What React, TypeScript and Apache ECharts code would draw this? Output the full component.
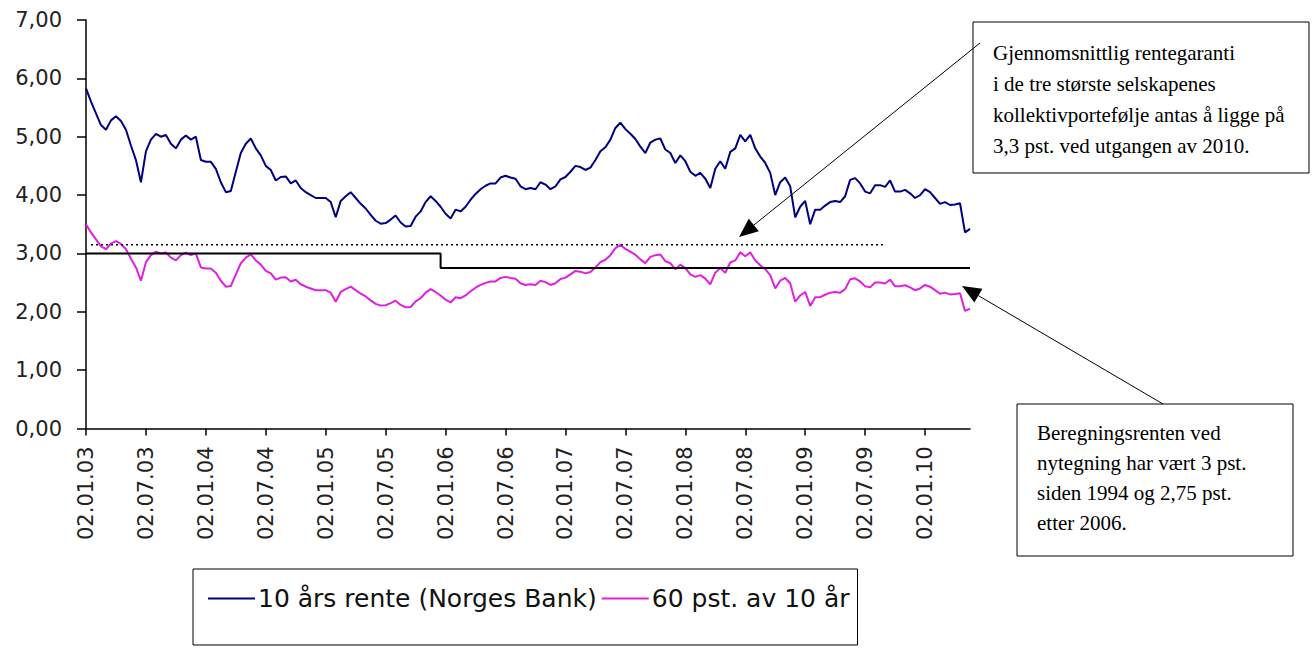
import React, { useEffect, useRef } from "react";
import * as echarts from "echarts";

// 10-year government bond yield (Norges Bank), read semi-monthly from the picture
const rate10: number[] = [
  5.83, 5.6, 5.4, 5.2, 5.12, 5.28, 5.35, 5.27, 5.12, 4.85,
  4.6, 4.22, 4.75, 4.95, 5.05, 5.0, 5.03, 4.88, 4.8, 4.95,
  5.02, 4.95, 5.0, 4.6, 4.57, 4.57, 4.45, 4.22, 4.05, 4.07,
  4.4, 4.72, 4.88, 4.97, 4.8, 4.68, 4.5, 4.43, 4.25, 4.31,
  4.32, 4.2, 4.25, 4.12, 4.05, 4.0, 3.95, 3.95, 3.95, 3.88,
  3.62, 3.9, 3.98, 4.05, 3.95, 3.85, 3.77, 3.66, 3.56, 3.51,
  3.52, 3.58, 3.65, 3.53, 3.46, 3.47, 3.63, 3.72, 3.88, 3.98,
  3.9, 3.8, 3.68, 3.6, 3.75, 3.72, 3.8, 3.92, 4.02, 4.1,
  4.16, 4.2, 4.2, 4.3, 4.33, 4.3, 4.28, 4.15, 4.1, 4.12,
  4.1, 4.22, 4.18, 4.1, 4.15, 4.27, 4.31, 4.4, 4.5, 4.48,
  4.43, 4.47, 4.6, 4.75, 4.82, 4.95, 5.15, 5.24, 5.13, 5.05,
  4.96, 4.83, 4.72, 4.9, 4.95, 4.97, 4.78, 4.72, 4.55, 4.68,
  4.58, 4.4, 4.33, 4.38, 4.28, 4.12, 4.45, 4.58, 4.45, 4.74,
  4.8, 5.03, 4.92, 5.03, 4.8, 4.66, 4.55, 4.38, 4.0, 4.22,
  4.3, 4.15, 3.62, 3.8, 3.9, 3.5, 3.75, 3.75, 3.82, 3.88,
  3.9, 3.88, 3.98, 4.26, 4.29, 4.2, 4.06, 4.03, 4.17, 4.17,
  4.14, 4.25, 4.06, 4.06, 4.09, 4.03, 3.95, 4.0, 4.1, 4.05,
  3.95, 3.85, 3.88, 3.83, 3.84, 3.86, 3.36, 3.42,
];

// "60 pst. av 10 år" is by definition 60 % of the 10-year rate
const share = 0.6;
const rate60: number[] = rate10.map((v) => Math.round(v * share * 1000) / 1000);

// Semi-monthly observation dates (dd.mm.yy), 02 and 16 of each month
const categories: string[] = (() => {
  const out: string[] = [];
  for (let y = 2003; y <= 2010; y++) {
    for (let m = 1; m <= 12; m++) {
      for (const d of ["02", "16"]) {
        out.push(`${d}.${String(m).padStart(2, "0")}.${String(y).slice(2)}`);
      }
    }
  }
  return out.slice(0, rate10.length);
})();

// Beregningsrente (calculation rate) 3 % then 2,75 %
const calcRateFrom: string[] = ["02.01.03", "16.12.05"];
const calcRateTo: string[] = ["16.12.05", "16.05.10"];
const calcRateValue: number[] = [3.0, 2.75];

// Average guaranteed rate (dotted line)
const guaranteeLevel = 3.15;
const guaranteeSpan: string[] = ["16.01.03", "02.09.09"];

const seriesNames: string[] = ["10 års rente (Norges Bank)", "60 pst. av 10 år"];

const note1: string[] = [
  "Gjennomsnittlig rentegaranti",
  "i de tre største selskapenes",
  "kollektivportefølje antas å ligge på",
  "3,3 pst. ved utgangen av 2010.",
];
const note2: string[] = [
  "Beregningsrenten ved",
  "nytegning har vært 3 pst.",
  "siden 1994 og 2,75 pst.",
  "etter 2006.",
];

function arrow(x1: number, y1: number, x2: number, y2: number) {
  const dx = x2 - x1;
  const dy = y2 - y1;
  const len = Math.sqrt(dx * dx + dy * dy);
  const ux = dx / len;
  const uy = dy / len;
  const hl = 19;
  const hw = 8;
  const bx = x2 - ux * hl;
  const by = y2 - uy * hl;
  return [
    {
      type: "line",
      shape: { x1, y1, x2: bx, y2: by },
      style: { stroke: "#000", lineWidth: 1 },
      z: 100,
    },
    {
      type: "polygon",
      shape: {
        points: [
          [x2, y2],
          [bx - uy * hw, by + ux * hw],
          [bx + uy * hw, by - ux * hw],
        ],
      },
      style: { fill: "#000" },
      z: 100,
    },
  ];
}

function noteBox(x: number, y: number, w: number, h: number, lines: string[], tx: number, ty: number, lh: number) {
  const els: any[] = [
    {
      type: "rect",
      shape: { x, y, width: w, height: h },
      style: { fill: "#fff", stroke: "#000", lineWidth: 1 },
      z: 90,
    },
  ];
  lines.forEach((t, i) => {
    els.push({
      type: "text",
      x: tx,
      y: ty + i * lh,
      style: {
        text: t,
        font: "21px 'Liberation Serif', 'Times New Roman', serif",
        fill: "#000",
        textVerticalAlign: "middle",
        textAlign: "left",
      },
      z: 95,
    });
  });
  return els;
}

export default function App() {
  const ref = useRef<HTMLDivElement>(null);

  useEffect(() => {
    if (!ref.current) return;
    const chart = echarts.init(ref.current, undefined, { renderer: "svg" });
    const font = "'DejaVu Sans', Arial, sans-serif";

    const stepData: any[] = [];
    calcRateValue.forEach((v, i) => {
      stepData.push([calcRateFrom[i], v]);
      stepData.push([calcRateTo[i], v]);
    });

    chart.setOption({
      animation: false,
      backgroundColor: "#fff",
      grid: { left: 86, right: 344, top: 20, bottom: 221.5, containLabel: false },
      legend: {
        data: seriesNames,
        left: 193,
        top: 569,
        orient: "horizontal",
        padding: [17, 8, 34, 15],
        borderColor: "#000",
        borderWidth: 1,
        icon: "rect",
        itemWidth: 47,
        itemHeight: 2,
        itemGap: 5,
        textStyle: { fontFamily: font, fontSize: 25, color: "#111", padding: [0, 0, 0, -2] },
      },
      xAxis: {
        type: "category",
        data: categories,
        boundaryGap: false,
        axisLine: { lineStyle: { color: "#000", width: 1.5 } },
        axisTick: { interval: 11, length: 7, lineStyle: { color: "#000", width: 1.5 } },
        axisLabel: {
          interval: 11,
          rotate: 90,
          margin: 18,
          fontFamily: font,
          fontSize: 21,
          color: "#222",
        },
        splitLine: { show: false },
      },
      yAxis: {
        type: "value",
        min: 0,
        max: 7,
        interval: 1,
        axisLine: { show: true, lineStyle: { color: "#000", width: 1.5 } },
        axisTick: { show: true, length: 9, lineStyle: { color: "#000", width: 1.5 } },
        axisLabel: {
          margin: 24,
          fontFamily: font,
          fontSize: 21,
          color: "#222",
          formatter: (v: number) => v.toFixed(2).replace(".", ","),
        },
        splitLine: { show: false },
      },
      series: [
        {
          name: seriesNames[0],
          type: "line",
          data: rate10,
          symbol: "none",
          lineStyle: { color: "#000080", width: 2 },
          itemStyle: { color: "#000080" },
          z: 3,
        },
        {
          name: seriesNames[1],
          type: "line",
          data: rate60,
          symbol: "none",
          lineStyle: { color: "#e020e0", width: 2 },
          itemStyle: { color: "#e020e0" },
          z: 3,
        },
        {
          name: "Beregningsrente",
          type: "line",
          data: stepData,
          symbol: "none",
          lineStyle: { color: "#000", width: 2 },
          z: 4,
        },
        {
          name: "Rentegaranti",
          type: "line",
          data: [
            [guaranteeSpan[0], guaranteeLevel],
            [guaranteeSpan[1], guaranteeLevel],
          ],
          symbol: "none",
          lineStyle: { color: "#000", width: 1.5, type: [2, 3] },
          z: 4,
        },
      ],
      graphic: [
        ...noteBox(973, 22, 336, 151, note1, 993, 53, 31),
        ...noteBox(1017, 404, 276, 152, note2, 1037, 433, 30),
        ...arrow(980, 43, 739, 237),
        ...arrow(1163, 404, 962, 286),
      ],
    });
    return () => chart.dispose();
  }, []);

  return (
    <div
      ref={ref}
      style={{ position: "absolute", left: 0, top: 0, width: 1314, height: 650, background: "#fff" }}
    />
  );
}
